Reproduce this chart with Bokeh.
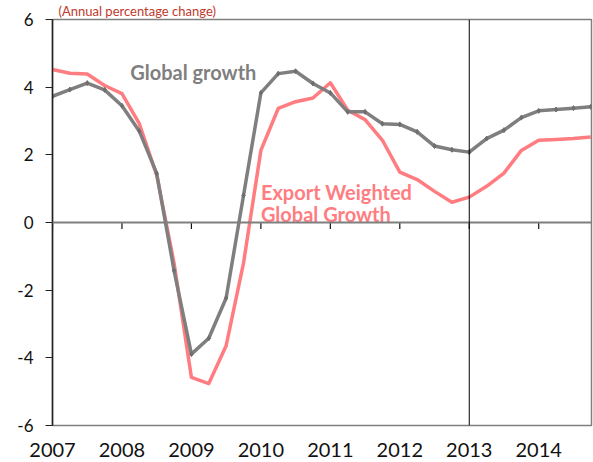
from bokeh.plotting import figure
from bokeh.models import Span, FixedTicker, ColumnDataSource
from bokeh.embed import file_html
from bokeh.resources import INLINE
from bokeh.core.properties import value

# Quarterly periods (decimal years)
periods = [2007.0, 2007.25, 2007.5, 2007.75,
           2008.0, 2008.25, 2008.5, 2008.75,
           2009.0, 2009.25, 2009.5, 2009.75,
           2010.0, 2010.25, 2010.5, 2010.75,
           2011.0, 2011.25, 2011.5, 2011.75,
           2012.0, 2012.25, 2012.5, 2012.75,
           2013.0, 2013.25, 2013.5, 2013.75,
           2014.0, 2014.25, 2014.5, 2014.75]

global_growth = [3.73, 3.93, 4.12, 3.92, 3.45, 2.70, 1.45, -1.42,
                 -3.89, -3.42, -2.23, 0.80, 3.83, 4.40, 4.47, 4.11,
                 3.83, 3.27, 3.27, 2.92, 2.90, 2.68, 2.26, 2.15,
                 2.08, 2.48, 2.73, 3.10, 3.30, 3.34, 3.38, 3.42]

export_weighted = [4.52, 4.41, 4.39, 4.05, 3.81, 2.92, 1.40, -1.20,
                   -4.58, -4.76, -3.64, -1.20, 2.13, 3.37, 3.57, 3.68,
                   4.13, 3.32, 3.04, 2.43, 1.49, 1.27, 0.92, 0.60,
                   0.75, 1.07, 1.46, 2.13, 2.43, 2.45, 2.48, 2.53]

year_ticks = [2007, 2008, 2009, 2010, 2011, 2012, 2013, 2014]
year_labels = ["2007", "2008", "2009", "2010", "2011", "2012", "2013", "2014"]
y_ticks = [-6, -4, -2, 0, 2, 4, 6]
y_labels = ["-6", "-4", "-2", "0", "2", "4", "6"]
forecast_start = 2013

title_text = "(Annual percentage change)"
label_global = ["Global growth"]
label_export = ["Export Weighted", "Global Growth"]

GRAY = "#7f7f7f"
RED = "#ff7c80"
TITLE_RED = "#c0392b"
FONT = "Lato"

p = figure(width=593, height=462, output_backend="svg", toolbar_location=None,
           x_range=(2007, 2014.76), y_range=(-6, 6),
           min_border_left=52, min_border_right=2, min_border_top=19,
           min_border_bottom=37)

p.title.text = title_text
p.title.text_color = TITLE_RED
p.title.text_font = FONT
p.title.text_font_size = "13px"
p.title.text_font_style = "normal"
p.title.align = "left"
p.title.offset = 6
p.title.standoff = 1

p.xgrid.visible = False
p.ygrid.visible = False
p.outline_line_color = GRAY
p.outline_line_width = 1.5
p.background_fill_color = "white"
p.border_fill_color = "white"

# y axis
p.yaxis.ticker = FixedTicker(ticks=y_ticks)
p.yaxis.major_label_overrides = {t: s for t, s in zip(y_ticks, y_labels)}
p.yaxis.major_tick_in = 0
p.yaxis.major_tick_out = 7
p.yaxis.minor_tick_line_color = None
p.yaxis.axis_line_color = "#222222"
p.yaxis.axis_line_width = 1.5
p.yaxis.major_tick_line_color = "#222222"
p.yaxis.major_label_text_font = FONT
p.yaxis.major_label_text_font_size = "17px"
p.yaxis.major_label_text_color = "#111111"
p.yaxis.major_label_standoff = 12

# x axis (labels only; ticks drawn on the zero line)
p.xaxis.ticker = FixedTicker(ticks=year_ticks)
p.xaxis.major_label_overrides = {t: s for t, s in zip(year_ticks, year_labels)}
p.xaxis.major_tick_in = 0
p.xaxis.major_tick_out = 0
p.xaxis.minor_tick_line_color = None
p.xaxis.axis_line_color = None
p.xaxis.major_label_text_font = FONT
p.xaxis.major_label_text_font_size = "20px"
p.xaxis.major_label_text_color = "#111111"
p.xaxis.major_label_standoff = 17

# zero line with downward year ticks
p.add_layout(Span(location=0, dimension="width", line_color=GRAY, line_width=2))
p.segment(x0=year_ticks, y0=[0] * len(year_ticks), x1=year_ticks,
          y1=[-0.19] * len(year_ticks), line_color="#111111", line_width=1.2)

# forecast divider
p.add_layout(Span(location=forecast_start, dimension="height",
                  line_color="#000000", line_width=1))

src = ColumnDataSource(dict(x=periods, g=global_growth, e=export_weighted))
p.line("x", "e", source=src, line_color=RED, line_width=3.5, line_join="round")
p.line("x", "g", source=src, line_color=GRAY, line_width=3.5, line_join="round")
p.scatter("x", "g", source=src, marker="diamond", size=5, color="#6f6f6f")

p.text(x=[2008.12], y=[4.45], text=label_global, text_color=GRAY,
       text_font=value(FONT), text_font_style="bold", text_font_size="20px",
       text_baseline="alphabetic", text_align="left")
p.text(x=[2010.0, 2010.0], y=[0.89, 0.24], text=label_export, text_color=RED,
       text_font=value(FONT), text_font_style="bold", text_font_size="20px",
       text_baseline="alphabetic", text_align="left")

open("out.html", "w").write(file_html(p, INLINE))
